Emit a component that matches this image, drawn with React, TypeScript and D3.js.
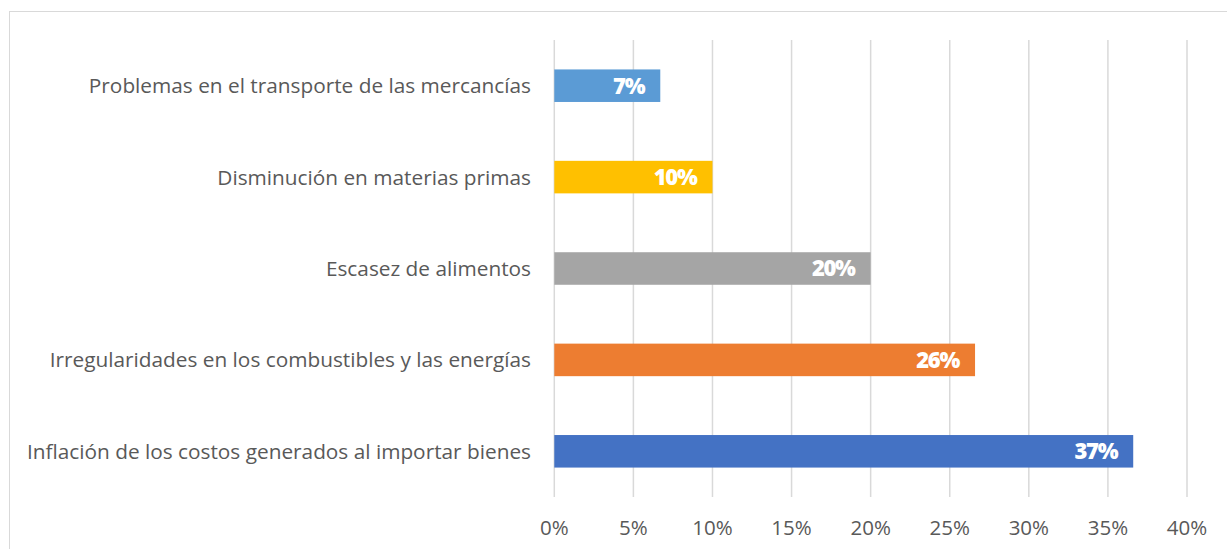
import React from "react";
import * as d3 from "d3";

const categories = [
  "Problemas en el transporte de las mercancías",
  "Disminución en materias primas",
  "Escasez de alimentos",
  "Irregularidades en los combustibles y las energías",
  "Inflación de los costos generados al importar bienes",
];
const values = [6.7, 10.0, 20.0, 26.6, 36.6];
const valueLabels = ["7%", "10%", "20%", "26%", "37%"];
const barColors = ["#5B9BD5", "#FFC000", "#A5A5A5", "#ED7D31", "#4472C4"];
const ticks = [0, 5, 10, 15, 20, 25, 30, 35, 40];

const W = 1227;
const H = 549;
const x0 = 554.3;
const x1 = 1187;
const yTop = 40;
const yBot = 497;
const font = "'Open Sans', 'Noto Sans', sans-serif";

export default function App() {
  const x = d3.scaleLinear().domain([0, 40]).range([x0, x1]);
  const p = 0.644;
  const y = d3
    .scaleBand<string>()
    .domain(categories)
    .range([yTop, yBot])
    .paddingInner(p)
    .paddingOuter(p / 2);
  const bw = y.bandwidth();

  return (
    <div style={{ position: "absolute", left: 0, top: 0 }}>
      <svg width={W} height={H} style={{ display: "block" }}>
        <rect x={0} y={0} width={W} height={H} fill="#ffffff" />
        <rect
          x={9.5}
          y={11.5}
          width={W + 20}
          height={H + 20}
          fill="none"
          stroke="#d9d9d9"
          strokeWidth={1}
        />
        {ticks.map((t) => (
          <line
            key={"g" + t}
            x1={x(t)}
            x2={x(t)}
            y1={yTop}
            y2={yBot}
            stroke="#d9d9d9"
            strokeWidth={1.5}
          />
        ))}
        {ticks.map((t) => (
          <text
            key={"t" + t}
            x={x(t)}
            y={535}
            textAnchor="middle"
            fontFamily={font}
            fontSize={20.5}
            fill="#595959"
          >
            {t + "%"}
          </text>
        ))}
        {categories.map((c, i) => {
          const yy = y(c)!;
          return (
            <g key={c}>
              <rect
                x={x(0)}
                y={yy}
                width={x(values[i]) - x(0)}
                height={bw}
                fill={barColors[i]}
              />
              <text
                x={x(values[i]) - 16}
                y={yy + bw / 2}
                dy="0.36em"
                textAnchor="end"
                fontFamily={font}
                fontWeight={800}
                fontSize={22}
                fill="#ffffff"
                letterSpacing={-1.3}
              >
                {valueLabels[i]}
              </text>
              <text
                x={531}
                y={yy + bw / 2}
                dy="0.36em"
                textAnchor="end"
                fontFamily={font}
                fontSize={20.8}
                fill="#595959"
              >
                {c}
              </text>
            </g>
          );
        })}
      </svg>
    </div>
  );
}
